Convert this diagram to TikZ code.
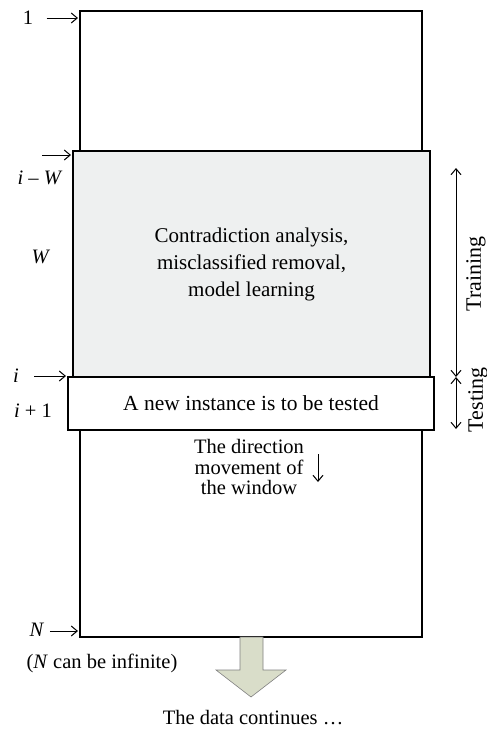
\documentclass[tikz,border=0pt]{standalone}
\usepackage{fontspec}
\setmainfont{Liberation Serif}
\usetikzlibrary{arrows.meta,positioning,calc}
\tikzset{
    box/.style={draw, line width=1.2pt, inner sep=0pt},
    lab/.style={font=\fontsize{20.5}{24}\selectfont},
    sidelab/.style={font=\fontsize{22}{24}\selectfont, rotate=90},
    pointer/.style={-{Straight Barb[length=6pt,width=10pt]}, line width=1pt},
    span/.style={{Straight Barb[length=6pt,width=10pt]}-{Straight Barb[length=6pt,width=10pt]}, line width=1pt}
}
\definecolor{traingray}{HTML}{EEF0F0}
\definecolor{flowgreen}{HTML}{D9DDC9}
\begin{document}
\begin{tikzpicture}[x=1pt, y=-1pt]
    \useasboundingbox (0,0) rectangle (487,731);

    % data stream
    \node[box, minimum width=342pt, minimum height=626pt] (data) at (251,324) {};

    % training window
    \node[box, fill=traingray, minimum width=357pt, minimum height=226pt, align=center,
          font=\fontsize{21}{27}\selectfont] (train) at (251.5,264)
        {Contradiction analysis,\\misclassified removal,\\model learning};

    % test instance
    \node[box, fill=white, minimum width=366pt, minimum height=53pt,
          font=\fontsize{21.5}{23}\selectfont] (test) at (251,403.5)
        {A new instance is to be tested};

    % direction of the window
    \node[align=center, font=\fontsize{20.5}{20.5}\selectfont] (dir) at (249,467)
        {The direction\\movement of\\the window};
    \coordinate (dirtop) at (318,454);
    \coordinate (dirbot) at (318,482);
    \draw[pointer] (dirtop) -- (dirbot);

    % labels on the left
    \node[lab] (one) at (28,18) {1};
    \coordinate (onetip) at (78,18);
    \draw[pointer] (one.east) ++(10,0) -- (onetip);

    \node[lab] (iw) at (40,178) {\textit{i} -- \textit{W}};
    \coordinate (iwstart) at (42,155);
    \coordinate (iwtip) at (71,155);
    \draw[pointer] (iwstart) -- (iwtip);

    \node[lab] (w) at (41,257) {\textit{W}};

    \node[lab] (ii) at (16,376) {\textit{i}};
    \coordinate (iitip) at (66,376);
    \draw[pointer] (ii.east) ++(12,0) -- (iitip);

    \node[lab] (ione) at (33,411) {\textit{i} + 1};

    \node[lab] (nn) at (37,630) {\textit{N}};
    \coordinate (nntip) at (78,631);
    \draw[pointer] (nn.east) ++(2,1) -- (nntip);

    \node[lab] (infinite) at (102,663) {(\textit{N} can be infinite)};

    % training / testing spans
    \coordinate (trtop) at (456,168);
    \coordinate (trbot) at (456,377);
    \coordinate (tsbot) at (456,429);
    \draw[span] (trtop) -- (trbot);
    \draw[span] (trbot) -- (tsbot);
    \node[sidelab] (training) at (476,274) {Training};
    \node[sidelab] (testing) at (478,400) {Testing};

    % data continues
    \draw[line width=0.6pt, draw=gray, fill=flowgreen]
        (240,637) -- (240,670) -- (216,670) -- (251,697) -- (286,670)
        -- (263,670) -- (263,637) -- cycle;
    \node[lab] (cont) at (253,718) {The data continues \dots};
\end{tikzpicture}
\end{document}
